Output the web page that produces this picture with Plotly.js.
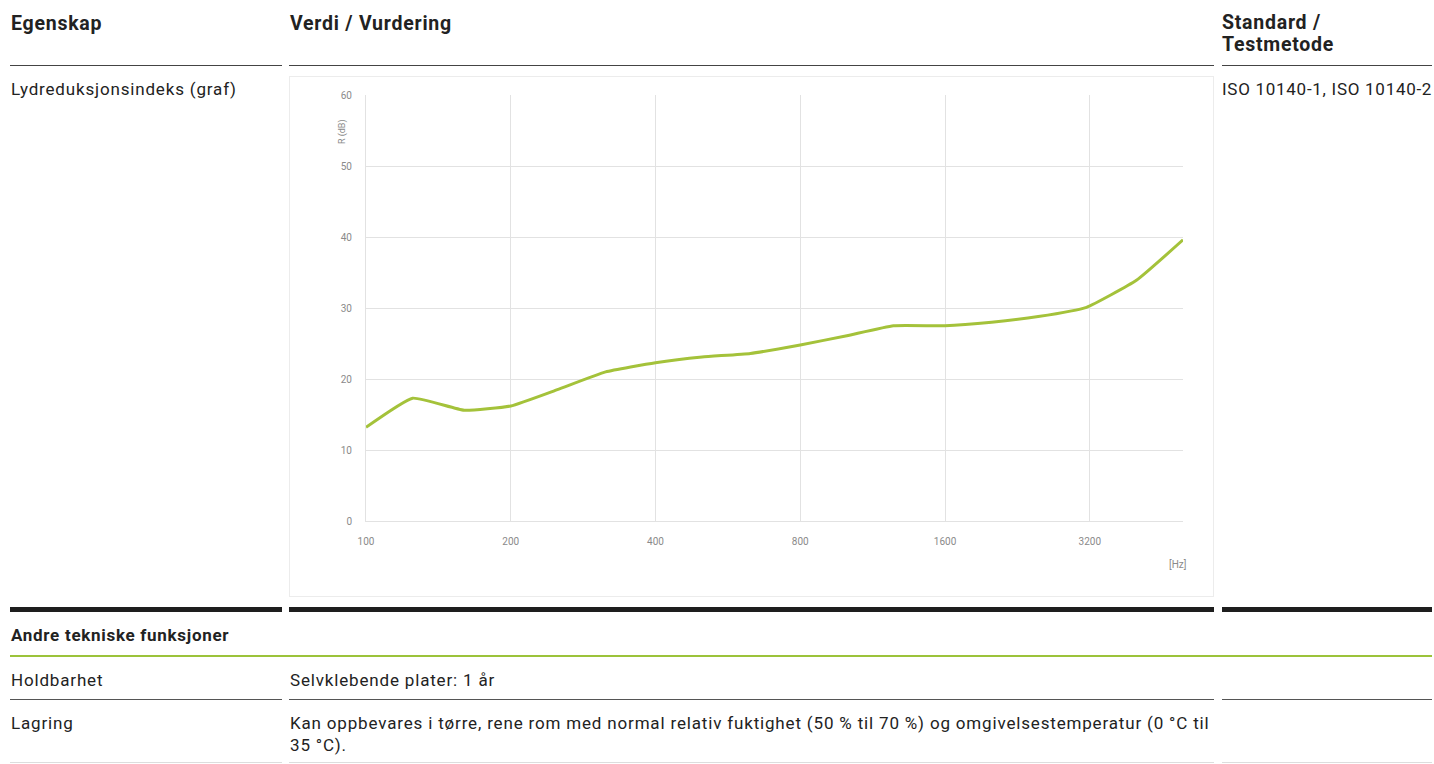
<!DOCTYPE html>
<html>
<head>
<meta charset="utf-8">
<script src="https://cdn.plot.ly/plotly-3.0.1.min.js"></script>
<style>
  html, body { margin:0; padding:0; background:#fff; width:1434px; height:764px; overflow:hidden; }
  body { font-family: Roboto, "DejaVu Sans", sans-serif; color:#222; position:relative; }
  .t { position:absolute; white-space:nowrap; }
  .h { font-weight:700; font-size:19.5px; line-height:22px; letter-spacing:0.75px; }
  .r { font-size:17px; line-height:22px; letter-spacing:0.83px; }
  .rule { position:absolute; }
  #chart { position:absolute; left:289px; top:76px; width:925px; height:521px; box-sizing:border-box; border:1px solid #ececec; }
</style>
</head>
<body>
<!-- header -->
<div class="t h" style="left:11px; top:13px;">Egenskap</div>
<div class="t h" style="left:290px; top:13px;">Verdi / Vurdering</div>
<div class="t h" style="left:1222px; top:12px;">Standard /<br>Testmetode</div>
<div class="rule" style="left:10px; top:65px; width:272px; height:1px; background:#444;"></div>
<div class="rule" style="left:289px; top:65px; width:925px; height:1px; background:#444;"></div>
<div class="rule" style="left:1222px; top:65px; width:210px; height:1px; background:#444;"></div>

<div class="t r" style="left:11px; top:78px;">Lydreduksjonsindeks (graf)</div>
<div class="t r" style="left:1222px; top:78px; letter-spacing:0.72px;">ISO 10140-1, ISO 10140-2</div>

<div id="chart"></div>

<div class="rule" style="left:10px; top:607px; width:272px; height:5px; background:#1e1e1e;"></div>
<div class="rule" style="left:289px; top:607px; width:925px; height:5px; background:#1e1e1e;"></div>
<div class="rule" style="left:1222px; top:607px; width:210px; height:5px; background:#1e1e1e;"></div>

<div class="t" style="left:11px; top:624px; font-weight:700; font-size:17px; line-height:22px; letter-spacing:0.7px;">Andre tekniske funksjoner</div>
<div class="rule" style="left:10px; top:655px; width:1422px; height:2px; background:#9cc33a;"></div>

<div class="t r" style="left:11px; top:669px;">Holdbarhet</div>
<div class="t r" style="left:290px; top:669px;">Selvklebende plater: 1 år</div>
<div class="rule" style="left:10px; top:699px; width:272px; height:1px; background:#555;"></div>
<div class="rule" style="left:289px; top:699px; width:925px; height:1px; background:#555;"></div>
<div class="rule" style="left:1222px; top:699px; width:210px; height:1px; background:#555;"></div>

<div class="t r" style="left:11px; top:712px;">Lagring</div>
<div class="t r" style="left:290px; top:712px;">Kan oppbevares i tørre, rene rom med normal relativ fuktighet (50 % til 70 %) og omgivelsestemperatur (0 °C til<br>35 °C).</div>
<div class="rule" style="left:10px; top:762px; width:272px; height:1px; background:#ddd;"></div>
<div class="rule" style="left:289px; top:762px; width:925px; height:1px; background:#ddd;"></div>
<div class="rule" style="left:1222px; top:762px; width:210px; height:1px; background:#ddd;"></div>

<script>
const frequencies = [100, 125, 160, 200, 250, 315, 400, 500, 630, 800, 1000, 1250, 1600, 2000, 2500, 3150, 4000, 5000];
const reductionIndex = [13.2, 17.3, 15.6, 16.2, 18.5, 21.0, 22.3, 23.1, 23.6, 24.8, 26.1, 27.5, 27.5, 28.0, 28.8, 30.1, 33.9, 39.6];
const xTickValues = [100, 200, 400, 800, 1600, 3200];
const xTickLabels = ['100', '200', '400', '800', '1600', '3200'];
const yTickValues = [0, 10, 20, 30, 40, 50, 60];

const trace = {
  x: frequencies, y: reductionIndex, type: 'scatter', mode: 'lines',
  line: { color: '#a4c23a', width: 3, shape: 'spline', smoothing: 0.4 },
  hoverinfo: 'skip'
};
const layout = {
  width: 923, height: 519,
  margin: { l: 76, r: 30, t: 18, b: 75 },
  paper_bgcolor: '#ffffff', plot_bgcolor: '#ffffff',
  showlegend: false,
  font: { family: 'Roboto, "DejaVu Sans", sans-serif', size: 10, color: '#8a8a8a' },
  xaxis: {
    type: 'log', range: [Math.log10(100), Math.log10(5000)],
    tickvals: xTickValues, ticktext: xTickLabels,
    showgrid: true, gridcolor: '#e2e2e2', gridwidth: 1,
    showline: true, linecolor: '#e2e2e2', linewidth: 1, mirror: false,
    zeroline: false, ticks: '', ticklabelstandoff: 11,
    tickfont: { size: 10, color: '#8a8a8a' }
  },
  yaxis: {
    range: [0, 60], tickvals: yTickValues,
    showgrid: true, gridcolor: '#e2e2e2', gridwidth: 1,
    showline: true, linecolor: '#e2e2e2', zeroline: false,
    ticks: '', ticklabelstandoff: 11,
    tickfont: { size: 10, color: '#8a8a8a' }
  },
  annotations: [
    { text: 'R (dB)', xref: 'paper', yref: 'paper', x: -0.038, y: 0.948, textangle: -90,
      showarrow: false, font: { size: 9, color: '#8a8a8a' } },
    { text: '[Hz]', xref: 'paper', yref: 'paper', x: 0.993, y: -0.103, xanchor: 'center', yanchor: 'middle',
      showarrow: false, font: { size: 10, color: '#8a8a8a' } }
  ]
};
Plotly.newPlot('chart', [trace], layout, { staticPlot: true, displayModeBar: false });
</script>
</body>
</html>
